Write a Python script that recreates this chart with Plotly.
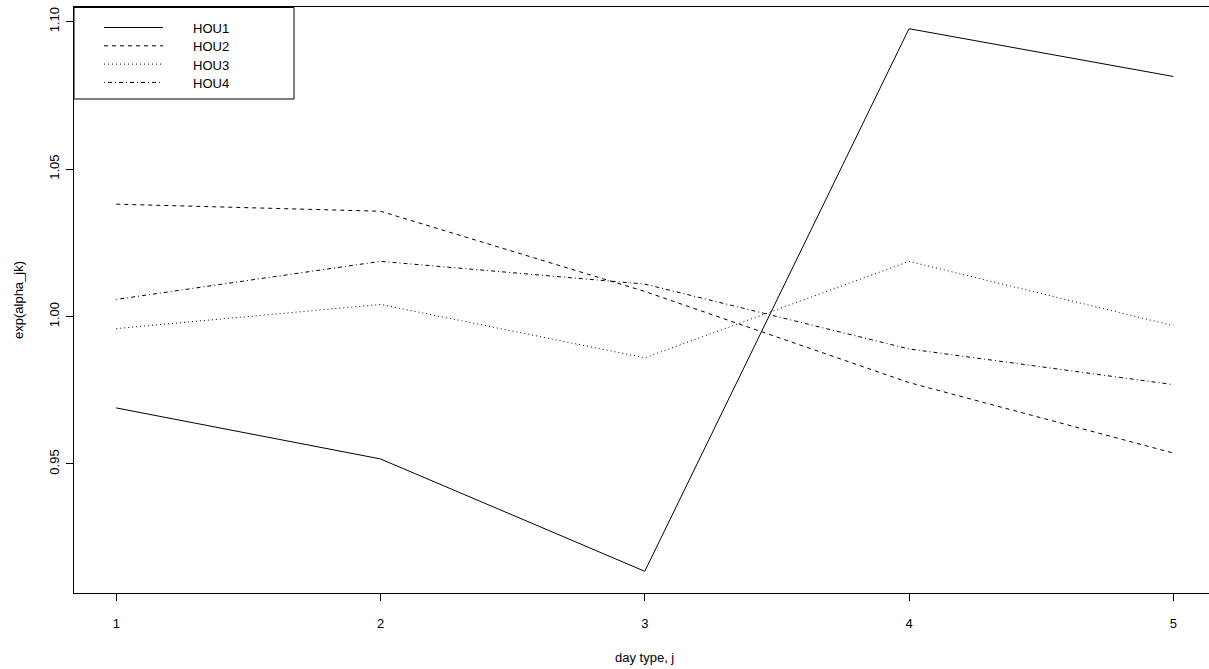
import plotly.graph_objects as go

# Estimated exp(alpha_jk) by day type for each household
day_type = [1, 2, 3, 4, 5]
hou1 = [0.9690, 0.9517, 0.9136, 1.0976, 1.0814]
hou2 = [1.0381, 1.0357, 1.0085, 0.9776, 0.9537]
hou3 = [0.9959, 1.0041, 0.9860, 1.0187, 0.9969]
hou4 = [1.0058, 1.0187, 1.0110, 0.9890, 0.9769]
series_names = ["HOU1", "HOU2", "HOU3", "HOU4"]
x_ticks = [1, 2, 3, 4, 5]
y_ticks = [0.95, 1.00, 1.05, 1.10]

series = [hou1, hou2, hou3, hou4]
dashes = ["solid", "4px,4px", "1px,3px", "1px,3px,4px,3px"]

W, H = 1209, 669
M_L, M_R, M_T, M_B = 74, 0, 7, 76
FONT = "Liberation Sans, Arial, Helvetica, sans-serif"
FS = 13

fig = go.Figure()
for name, vals, dash in zip(series_names, series, dashes):
    fig.add_trace(go.Scatter(
        x=day_type, y=vals, mode="lines", name=name,
        line=dict(color="black", width=1, dash=dash),
        showlegend=False,
    ))

# R-style axis ranges: 4% padding around the data extent
all_vals = [v for s in series for v in s]
ymin, ymax = min(all_vals), max(all_vals)
ypad = 0.04 * (ymax - ymin)
xpad = 0.04 * (max(day_type) - min(day_type))
plot_w = W - M_L - M_R
plot_h = H - M_T - M_B
# the plot region continues past the right edge of the page
x_lo = min(day_type) - xpad
x_hi = x_lo + plot_w / 264.25


def px_x(p):
    return (p - M_L) / plot_w


def px_y(p):
    return 1 - (p - M_T) / plot_h


# legend box drawn in the top-left corner of the plot region
shapes = [dict(type="rect", xref="paper", yref="paper",
               x0=px_x(74), x1=px_x(294), y0=px_y(99), y1=px_y(7.5),
               line=dict(color="black", width=1), fillcolor="white", layer="above")]
annotations = []
for i, (name, dash) in enumerate(zip(series_names, dashes)):
    yc = px_y(27.5 + i * 18.3)
    shapes.append(dict(type="line", xref="paper", yref="paper",
                       x0=px_x(104), x1=px_x(163), y0=yc, y1=yc,
                       line=dict(color="black", width=1, dash=dash), layer="above"))
    annotations.append(dict(xref="paper", yref="paper", x=px_x(191), y=px_y(28.5 + i * 18.3),
                            text=name, showarrow=False, xanchor="left", yanchor="middle",
                            font=dict(family=FONT, size=FS, color="black")))

annotations.append(dict(xref="x", yref="paper", x=3, y=px_y(657),
                        text="day type, j", showarrow=False, xanchor="center", yanchor="middle",
                        font=dict(family=FONT, size=FS, color="black")))
annotations.append(dict(xref="paper", yref="paper", x=px_x(18), y=px_y(300),
                        text="exp(alpha_jk)", showarrow=False, textangle=-90,
                        xanchor="center", yanchor="middle",
                        font=dict(family=FONT, size=FS, color="black")))

fig.update_layout(
    width=W, height=H, autosize=False,
    margin=dict(l=M_L, r=M_R, t=M_T, b=M_B, pad=0),
    paper_bgcolor="white", plot_bgcolor="white",
    font=dict(family=FONT, size=FS, color="black"),
    shapes=shapes, annotations=annotations,
    xaxis=dict(range=[x_lo, x_hi], tickvals=x_ticks, ticktext=[str(v) for v in x_ticks],
               showgrid=False, zeroline=False, showline=True, mirror=True,
               linecolor="black", linewidth=1, ticks="outside", ticklen=7,
               tickwidth=1, tickcolor="black", ticklabelstandoff=11,
               tickfont=dict(family=FONT, size=FS, color="black")),
    yaxis=dict(range=[ymin - ypad, ymax + ypad], tickvals=y_ticks,
               ticktext=[f"{v:.2f}" for v in y_ticks], tickangle=-90,
               showgrid=False, zeroline=False, showline=True, mirror=False,
               linecolor="black", linewidth=1, ticks="outside", ticklen=7,
               tickwidth=1, tickcolor="black", ticklabelstandoff=2,
               tickfont=dict(family=FONT, size=FS, color="black")),
)

fig.write_html("out.html")
